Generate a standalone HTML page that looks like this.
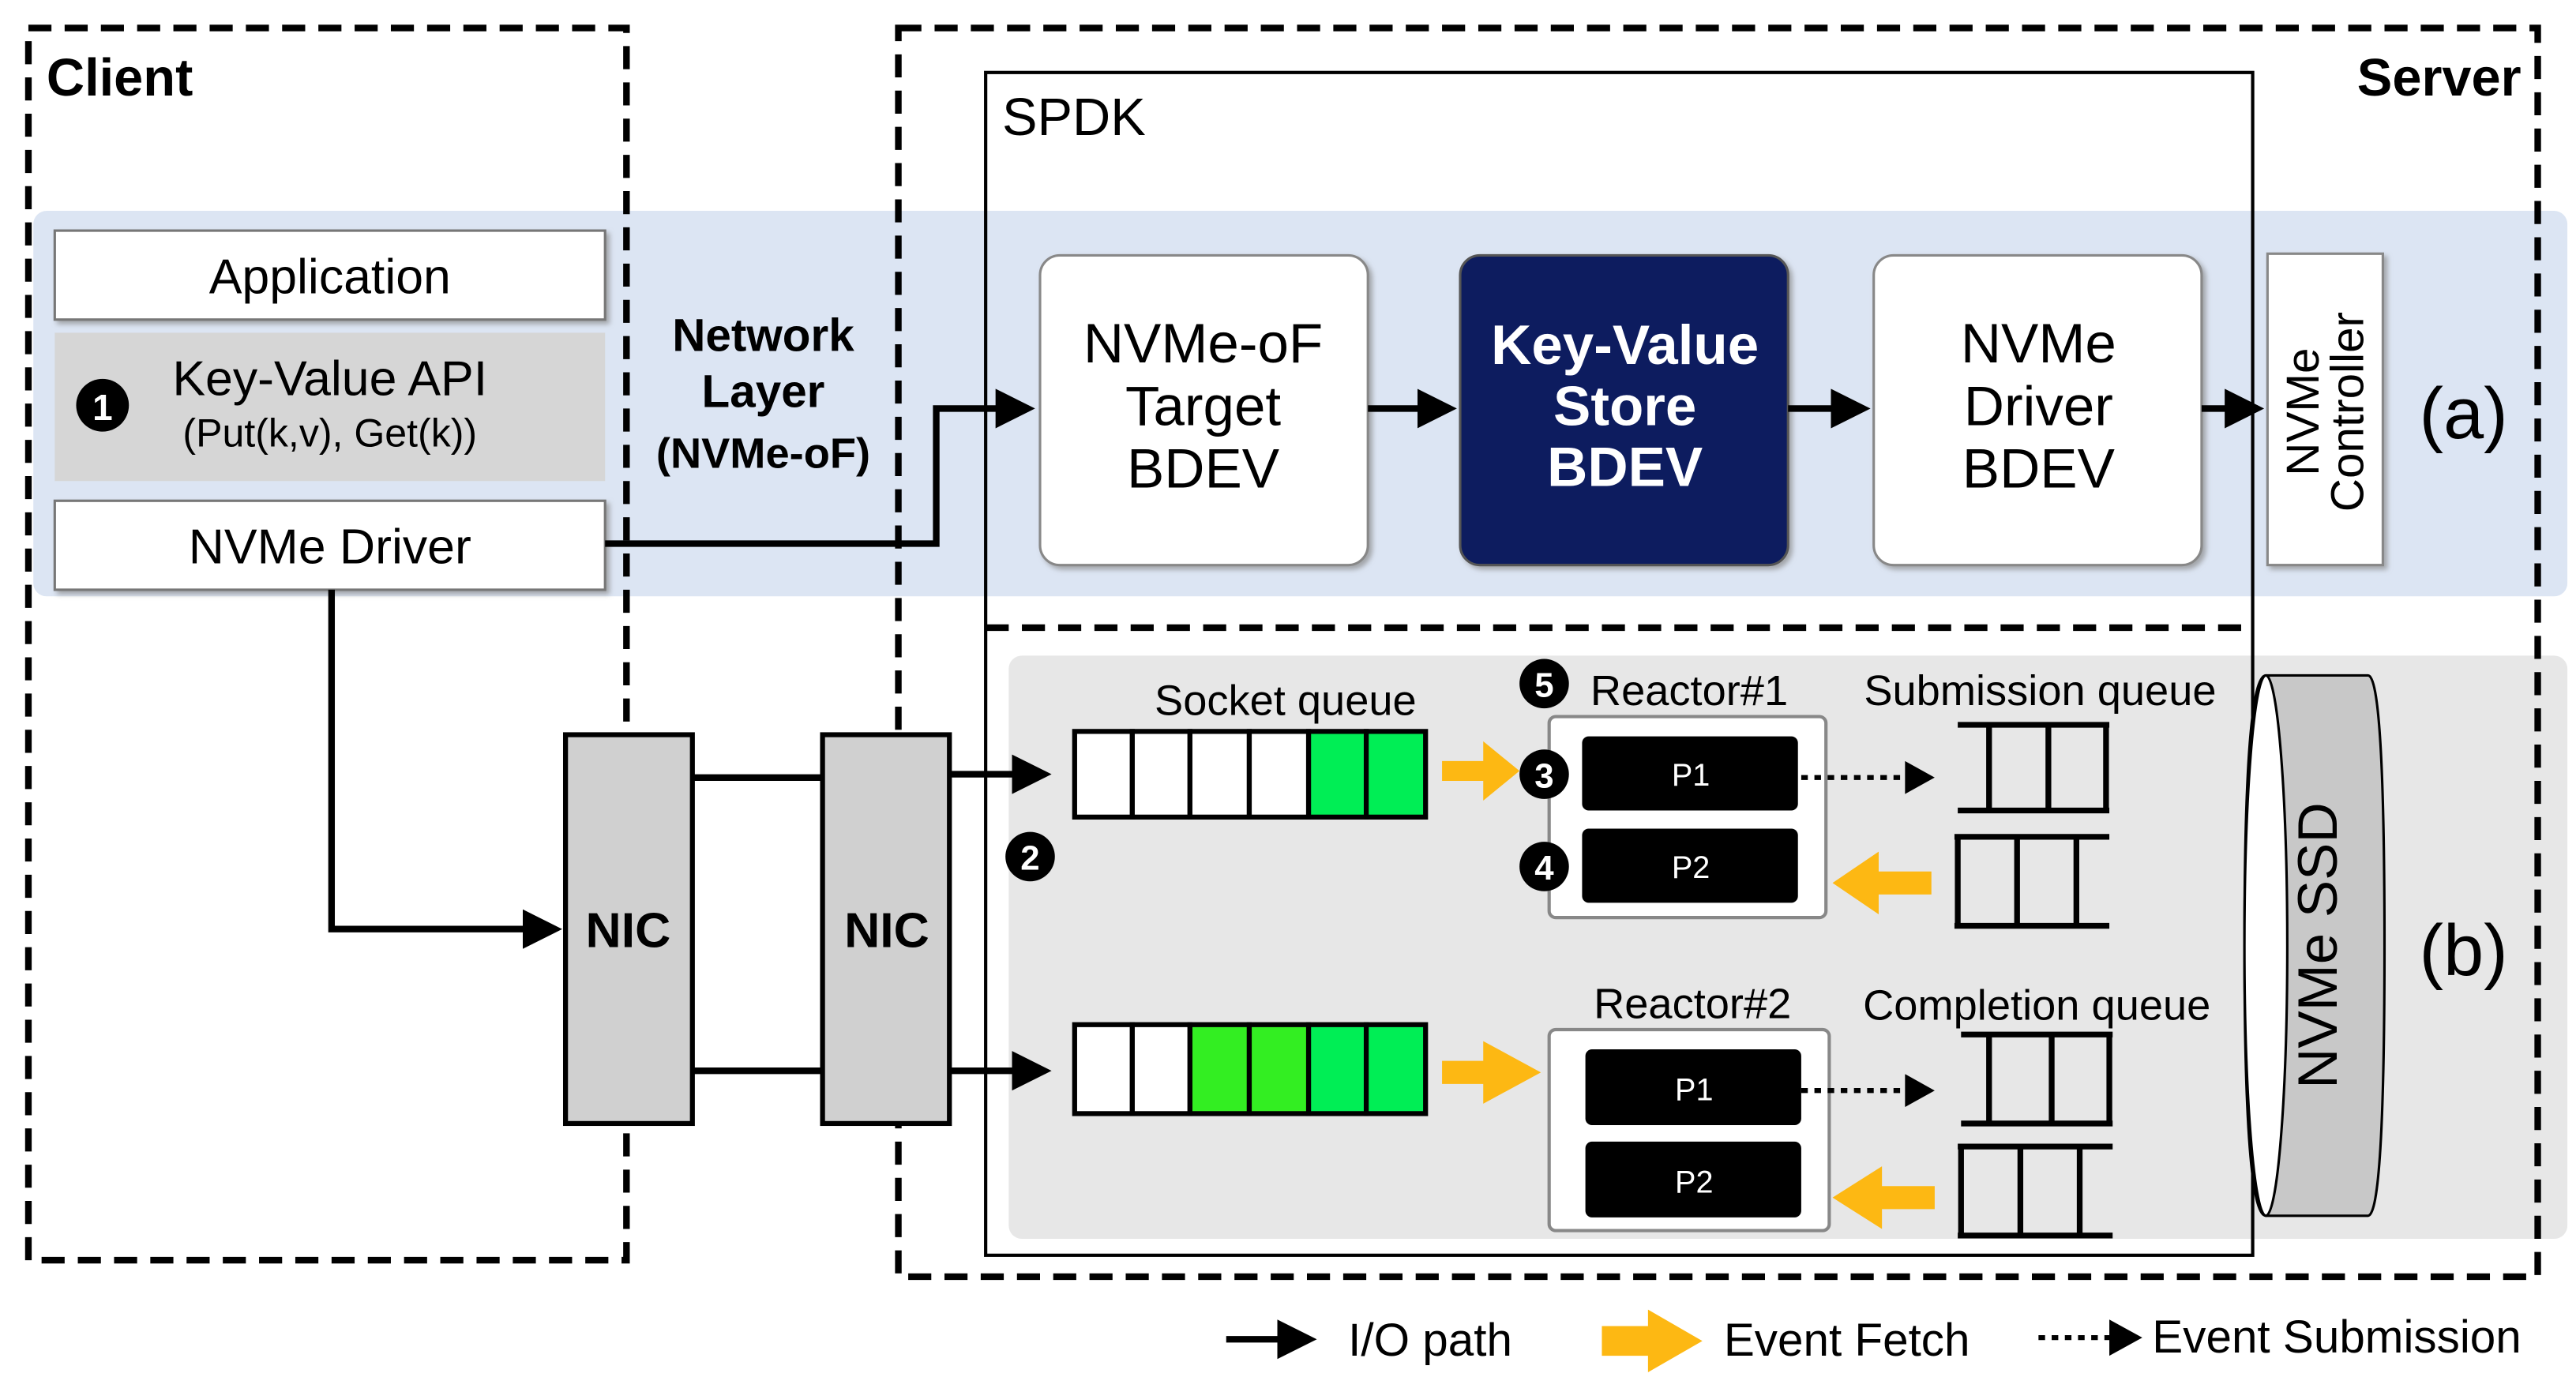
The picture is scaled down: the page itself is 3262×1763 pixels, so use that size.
<!DOCTYPE html>
<html><head><meta charset="utf-8"><style>
html,body{margin:0;padding:0;background:#fff;}
svg{display:block;}
text{font-family:"Liberation Sans","DejaVu Sans",sans-serif;}
</style></head><body>
<svg width="3262" height="1763" viewBox="0 0 1563 845" xmlns="http://www.w3.org/2000/svg">
<defs>
<marker id="ah" markerWidth="6" markerHeight="6" refX="5" refY="3" orient="auto" markerUnits="strokeWidth"><path d="M0,0 L6,3 L0,6 z" fill="#000"/></marker>
<filter id="sh" x="-10%" y="-10%" width="130%" height="130%"><feDropShadow dx="2" dy="2" stdDeviation="1.5" flood-color="#888" flood-opacity="0.7"/></filter>
</defs>
<rect width="1563" height="845" fill="#fff"/>
<!-- bands -->
<rect x="20" y="128" width="1538" height="234" rx="8" fill="#dce5f3"/>
<rect x="612" y="398" width="946" height="354" rx="8" fill="#e7e7e7"/>
<!-- dashed boxes -->
<rect x="17" y="17" width="363" height="748" fill="none" stroke="#000" stroke-width="4" stroke-dasharray="14,8"/>
<rect x="545" y="17" width="995" height="758" fill="none" stroke="#000" stroke-width="4" stroke-dasharray="14,8"/>
<text x="28" y="58" font-size="32" font-weight="bold">Client</text>
<text x="1530" y="58" font-size="32" font-weight="bold" text-anchor="end">Server</text>
<!-- SPDK -->
<rect x="598" y="44" width="769" height="718" fill="none" stroke="#000" stroke-width="2"/>
<text x="608" y="82" font-size="32">SPDK</text>
<line x1="598" y1="381" x2="1367" y2="381" stroke="#000" stroke-width="4" stroke-dasharray="14,8"/>
<!-- client stack -->
<rect x="33" y="140" width="334" height="54" fill="#fff" stroke="#777" stroke-width="1.5" filter="url(#sh)"/>
<text x="200" y="178" font-size="30" text-anchor="middle">Application</text>
<rect x="33" y="202" width="334" height="90" fill="#d6d6d6"/>
<text x="200" y="240" font-size="30" text-anchor="middle">Key-Value API</text>
<text x="200" y="271" font-size="24" text-anchor="middle">(Put(k,v), Get(k))</text>
<circle cx="62" cy="246" r="16" fill="#000"/><text x="62" y="255" font-size="22" font-weight="bold" fill="#fff" text-anchor="middle">1</text>
<rect x="33" y="304" width="334" height="54" fill="#fff" stroke="#777" stroke-width="1.5" filter="url(#sh)"/>
<text x="200" y="342" font-size="30" text-anchor="middle">NVMe Driver</text>
<text x="463" y="213" font-size="28" font-weight="bold" text-anchor="middle">Network</text>
<text x="463" y="247" font-size="28" font-weight="bold" text-anchor="middle">Layer</text>
<text x="463" y="284" font-size="26" font-weight="bold" text-anchor="middle">(NVMe-oF)</text>
<!-- I/O path -->
<polyline points="367,330 568,330 568,248 624,248" fill="none" stroke="#000" stroke-width="4" marker-end="url(#ah)"/>
<!-- BDEVs -->
<rect x="631" y="155" width="199" height="188" rx="12" fill="#fff" stroke="#888" stroke-width="1.5" filter="url(#sh)"/>
<text x="730" y="220" font-size="34" text-anchor="middle">NVMe-oF</text>
<text x="730" y="258" font-size="34" text-anchor="middle">Target</text>
<text x="730" y="296" font-size="34" text-anchor="middle">BDEV</text>
<rect x="886" y="155" width="199" height="188" rx="12" fill="#0b1f5e" stroke="#555" stroke-width="1.5" filter="url(#sh)"/>
<text x="986" y="221" font-size="34" font-weight="bold" fill="#fff" text-anchor="middle">Key-Value</text>
<text x="986" y="258" font-size="34" font-weight="bold" fill="#fff" text-anchor="middle">Store</text>
<text x="986" y="295" font-size="34" font-weight="bold" fill="#fff" text-anchor="middle">BDEV</text>
<rect x="1137" y="155" width="199" height="188" rx="12" fill="#fff" stroke="#888" stroke-width="1.5" filter="url(#sh)"/>
<text x="1237" y="220" font-size="34" text-anchor="middle">NVMe</text>
<text x="1237" y="258" font-size="34" text-anchor="middle">Driver</text>
<text x="1237" y="296" font-size="34" text-anchor="middle">BDEV</text>
<line x1="830" y1="248" x2="880" y2="248" stroke="#000" stroke-width="4" marker-end="url(#ah)"/>
<line x1="1085" y1="248" x2="1131" y2="248" stroke="#000" stroke-width="4" marker-end="url(#ah)"/>
<line x1="1336" y1="248" x2="1370" y2="248" stroke="#000" stroke-width="4" marker-end="url(#ah)"/>
<rect x="1376" y="154" width="70" height="189" fill="#fff" stroke="#888" stroke-width="1.5" filter="url(#sh)"/>
<text transform="translate(1407,250) rotate(-90)" font-size="28" text-anchor="middle">NVMe</text>
<text transform="translate(1434,250) rotate(-90)" font-size="28" text-anchor="middle">Controller</text>
<text x="1495" y="266" font-size="44" text-anchor="middle">(a)</text>
<text x="1495" y="592" font-size="44" text-anchor="middle">(b)</text>
<!-- driver to NIC -->
<polyline points="201,358 201,564 337,564" fill="none" stroke="#000" stroke-width="4" marker-end="url(#ah)"/>
<!-- NICs -->
<line x1="420" y1="472" x2="499" y2="472" stroke="#000" stroke-width="4"/>
<line x1="420" y1="650" x2="499" y2="650" stroke="#000" stroke-width="4"/>
<rect x="343" y="446" width="77" height="236" fill="#d0d0d0" stroke="#000" stroke-width="3"/>
<text x="381" y="575" font-size="30" font-weight="bold" text-anchor="middle">NIC</text>
<rect x="499" y="446" width="77" height="236" fill="#d0d0d0" stroke="#000" stroke-width="3"/>
<text x="538" y="575" font-size="30" font-weight="bold" text-anchor="middle">NIC</text>
<line x1="576" y1="470" x2="634" y2="470" stroke="#000" stroke-width="4" marker-end="url(#ah)"/>
<line x1="576" y1="650" x2="634" y2="650" stroke="#000" stroke-width="4" marker-end="url(#ah)"/>
<!-- socket queues -->
<text x="780" y="434" font-size="26" text-anchor="middle">Socket queue</text>
<g stroke="#000" stroke-width="3">
<rect x="652" y="444" width="35" height="52" fill="#fff"/><rect x="687" y="444" width="35" height="52" fill="#fff"/><rect x="722" y="444" width="36" height="52" fill="#fff"/><rect x="758" y="444" width="36" height="52" fill="#fff"/><rect x="794" y="444" width="35" height="52" fill="#00ee55"/><rect x="829" y="444" width="36" height="52" fill="#00ee55"/>
<rect x="652" y="622" width="35" height="54" fill="#fff"/><rect x="687" y="622" width="35" height="54" fill="#fff"/><rect x="722" y="622" width="36" height="54" fill="#33ee22"/><rect x="758" y="622" width="36" height="54" fill="#33ee22"/><rect x="794" y="622" width="35" height="54" fill="#00ee55"/><rect x="829" y="622" width="36" height="54" fill="#00ee55"/>
</g>
<circle cx="625" cy="520" r="15" fill="#000"/><text x="625" y="528" font-size="21" font-weight="bold" fill="#fff" text-anchor="middle">2</text>
<!-- reactors -->
<text x="1025" y="428" font-size="26" text-anchor="middle">Reactor#1</text>
<circle cx="937" cy="415" r="15" fill="#000"/><text x="937" y="423" font-size="21" font-weight="bold" fill="#fff" text-anchor="middle">5</text>
<rect x="940" y="435" width="168" height="122" rx="4" fill="#fff" stroke="#888" stroke-width="2"/>
<rect x="960" y="447" width="131" height="45" rx="4" fill="#000"/><text x="1026" y="477" font-size="19" fill="#fff" text-anchor="middle">P1</text>
<rect x="960" y="503" width="131" height="45" rx="4" fill="#000"/><text x="1026" y="533" font-size="19" fill="#fff" text-anchor="middle">P2</text>
<circle cx="937" cy="470" r="15" fill="#000"/><text x="937" y="478" font-size="21" font-weight="bold" fill="#fff" text-anchor="middle">3</text>
<circle cx="937" cy="526" r="15" fill="#000"/><text x="937" y="534" font-size="21" font-weight="bold" fill="#fff" text-anchor="middle">4</text>
<text x="1027" y="618" font-size="26" text-anchor="middle">Reactor#2</text>
<rect x="940" y="625" width="170" height="122" rx="4" fill="#fff" stroke="#888" stroke-width="2"/>
<rect x="962" y="637" width="131" height="46" rx="4" fill="#000"/><text x="1028" y="668" font-size="19" fill="#fff" text-anchor="middle">P1</text>
<rect x="962" y="693" width="131" height="46" rx="4" fill="#000"/><text x="1028" y="724" font-size="19" fill="#fff" text-anchor="middle">P2</text>
<!-- yellow arrows -->
<g fill="#fdb813">
<path d="M875,462 L900,462 L900,450 L922,468 L900,486 L900,474 L875,474 z"/>
<path d="M875,644 L900,644 L900,632 L935,651 L900,670 L900,658 L875,658 z"/>
<path d="M1172,529 L1140,529 L1140,517 L1112,536 L1140,555 L1140,543 L1172,543 z"/>
<path d="M1174,720 L1142,720 L1142,708 L1112,727 L1142,746 L1142,734 L1174,734 z"/>
</g>
<!-- dotted arrows -->
<line x1="1093" y1="472" x2="1160" y2="472" stroke="#000" stroke-width="3" stroke-dasharray="4,4"/>
<path d="M1156,462 L1174,472 L1156,482 z"/>
<line x1="1093" y1="662" x2="1160" y2="662" stroke="#000" stroke-width="3" stroke-dasharray="4,4"/>
<path d="M1156,652 L1174,662 L1156,672 z"/>
<!-- sub/comp queues -->
<text x="1238" y="428" font-size="26" text-anchor="middle">Submission queue</text>
<text x="1236" y="619" font-size="26" text-anchor="middle">Completion queue</text>
<g fill="none" stroke="#000" stroke-width="3.5">
<path d="M1188,440 H1280 M1188,492 H1280 M1207,440 V492 M1243,440 V492 M1278,440 V492"/>
<path d="M1186,508 H1280 M1186,562 H1280 M1188,508 V562 M1224,508 V562 M1260,508 V562"/>
<path d="M1190,628 H1282 M1190,682 H1282 M1207,628 V682 M1245,628 V682 M1280,628 V682"/>
<path d="M1188,696 H1282 M1188,750 H1282 M1190,696 V750 M1226,696 V750 M1262,696 V750"/>
</g>
<!-- SSD cylinder -->
<path d="M1375,410 L1437,410 Q1447,410 1447,574 Q1447,738 1437,738 L1375,738 Q1362,738 1362,574 Q1362,410 1375,410 z" fill="#c8c8c8" stroke="#000" stroke-width="1.5"/>
<ellipse cx="1375" cy="574" rx="13" ry="164" fill="#fff" stroke="#000" stroke-width="1.5"/>
<text transform="translate(1418,574) rotate(-90)" font-size="34" text-anchor="middle">NVMe SSD</text>
<!-- legend -->
<line x1="744" y1="813" x2="795" y2="813" stroke="#000" stroke-width="4" marker-end="url(#ah)"/>
<text x="818" y="823" font-size="28">I/O path</text>
<path d="M972,805 L1000,805 L1000,795 L1033,814 L1000,833 L1000,823 L972,823 z" fill="#fdb813"/>
<text x="1046" y="823" font-size="28">Event Fetch</text>
<line x1="1237" y1="812" x2="1285" y2="812" stroke="#000" stroke-width="3" stroke-dasharray="4,4"/>
<path d="M1280,801 L1300,812 L1280,823 z"/>
<text x="1306" y="821" font-size="28">Event Submission</text>
</svg>
</body></html>
